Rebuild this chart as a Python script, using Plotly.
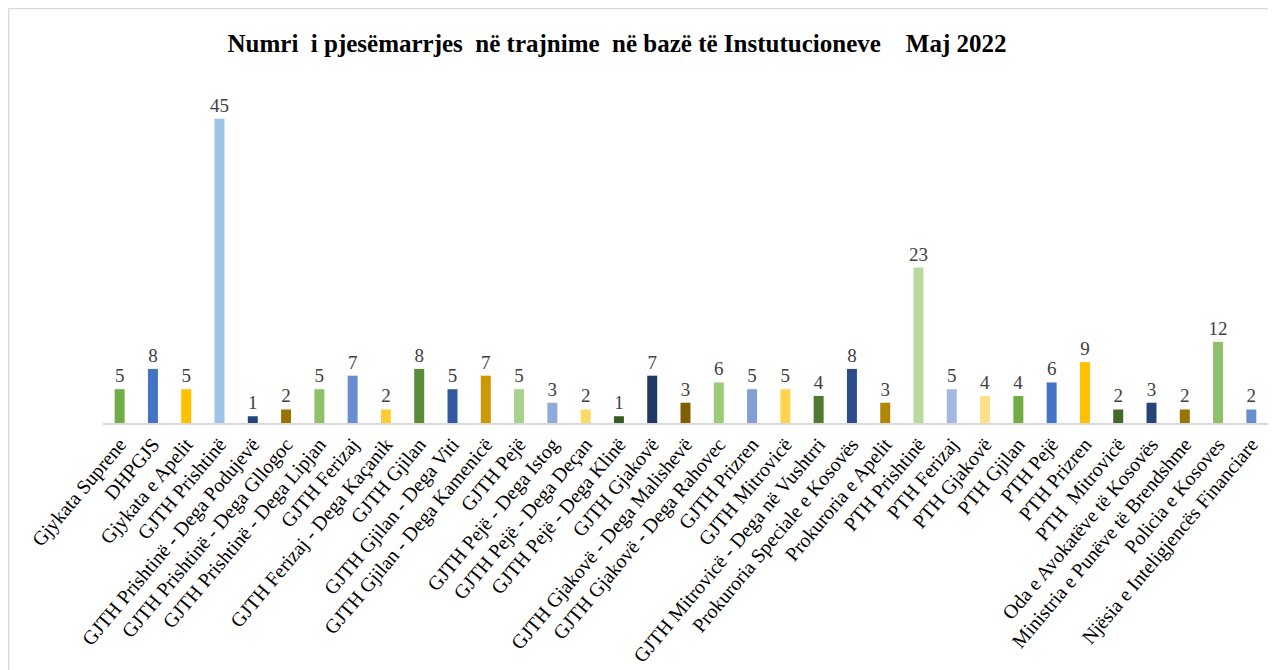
import plotly.graph_objects as go

categories = [
    "Gjykata Suprene", "DHPGJS", "Gjykata e Apelit", "GJTH Prishtinë",
    "GJTH Prishtinë - Dega Podujevë", "GJTH Prishtinë - Dega Gllogoc",
    "GJTH Prishtinë - Dega Lipjan", "GJTH Ferizaj", "GJTH Ferizaj - Dega Kaçanik",
    "GJTH Gjilan", "GJTH Gjilan - Dega Viti", "GJTH Gjilan - Dega Kamenicë",
    "GJTH Pejë", "GJTH Pejë - Dega Istog", "GJTH Pejë - Dega Deçan",
    "GJTH Pejë - Dega Klinë", "GJTH Gjakovë", "GJTH Gjakovë - Dega Malishevë",
    "GJTH Gjakovë - Dega Rahovec", "GJTH Prizren", "GJTH Mitrovicë",
    "GJTH Mitrovicë - Dega në Vushtrri", "Prokuroria Speciale e Kosovës",
    "Prokuroria e Apelit", "PTH Prishtinë", "PTH Ferizaj", "PTH Gjakovë",
    "PTH Gjilan", "PTH Pejë", "PTH Prizren", "PTH\u00a0\u00a0Mitrovicë",
    "Oda e Avokatëve të Kosovës", "Ministria e Punëve të Brendshme",
    "Policia e Kosoves", "Njësia e Inteligjencës Financiare",
]

values = [5, 8, 5, 45, 1, 2, 5, 7, 2, 8, 5, 7, 5, 3, 2, 1, 7, 3, 6, 5, 5, 4, 8, 3,
          23, 5, 4, 4, 6, 9, 2, 3, 2, 12, 2]

bar_colors = [
    "#70AD47", "#4472C4", "#FFC000", "#9DC3E6", "#264478", "#997300",
    "#8FC16A", "#698ED0", "#FFCD33", "#5B8C3A", "#335AA1", "#CC9A00",
    "#A9D18E", "#8FAADC", "#FFD966", "#3A5A25", "#203864", "#7F6000",
    "#9BCB77", "#7F9FD6", "#FFD34D", "#4E7A31", "#2C4D8A", "#B38600",
    "#B8DAA0", "#A4B9E2", "#FFE08A", "#70AD47", "#4472C4", "#FFC000",
    "#43682B", "#264478", "#997300", "#8FC16A", "#698ED0",
]

title_text = ("Numri\u00a0\u00a0i pjesëmarrjes\u00a0\u00a0në trajnime\u00a0\u00a0në bazë të "
              "Instutucioneve\u00a0\u00a0\u00a0\u00a0Maj 2022")

fig = go.Figure(
    go.Bar(
        x=categories,
        y=values,
        marker=dict(color=bar_colors, line=dict(width=0)),
        text=values,
        textposition="outside",
        textfont=dict(family="Liberation Serif", size=19, color="#404040"),
        cliponaxis=False,
        width=0.3,
    )
)

fig.update_layout(
    width=1268,
    height=662,
    margin=dict(l=95, r=8, t=77, b=247, autoexpand=False),
    paper_bgcolor="white",
    plot_bgcolor="white",
    showlegend=False,
    uniformtext=dict(mode="show", minsize=19),
    title=dict(
        text="<b>" + title_text + "</b>",
        font=dict(family="Liberation Serif", size=25, color="#000000"),
        x=0.4803, xref="container", xanchor="center",
        y=0.947, yref="container", yanchor="middle",
        automargin=False,
    ),
    xaxis=dict(
        tickangle=-50,
        tickfont=dict(family="Liberation Serif", size=20, color="#000000"),
        showline=True,
        linecolor="#D9D9D9",
        linewidth=1.5,
        ticks="",
        showgrid=False,
        automargin=False,
    ),
    yaxis=dict(
        range=[0, 50],
        visible=False,
        showgrid=False,
        zeroline=False,
        automargin=False,
    ),
    shapes=[
        dict(type="line", xref="paper", yref="paper", x0=-0.0811, x1=1.1,
             y0=1.2263, y1=1.2263, line=dict(color="#D9D9D9", width=1.5)),
        dict(type="line", xref="paper", yref="paper", x0=-0.0811, x1=-0.0811,
             y0=1.2263, y1=-1.0, line=dict(color="#D9D9D9", width=1.5)),
    ],
)

fig.write_html("out.html")
